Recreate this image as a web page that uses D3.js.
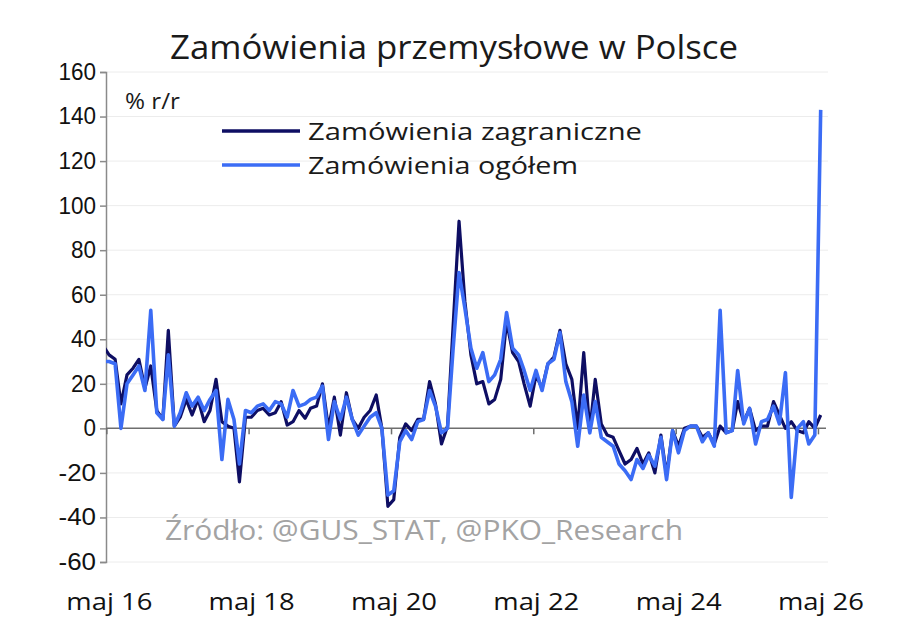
<!DOCTYPE html>
<html>
<head>
  <meta charset="utf-8">
  <title>Zamówienia przemysłowe w Polsce</title>
  <script src="https://cdn.jsdelivr.net/npm/d3@7"></script>
  <style>
    body { margin: 0; background: #fff; font-family: "Open Sans", Arial, sans-serif; }
    .grid line { stroke: #ececec; stroke-width: 1; }
    .ylab { font-size: 23px; fill: #111; }
    .xlab { font-size: 23px; fill: #111; }
    .title { font-size: 32px; fill: #1a1a1a; }
    .legend text { font-size: 24px; fill: #1a1a1a; }
  </style>
</head>
<body>
  <div id="chart"></div>
  <script>
    // miesięczne, kwi 2016 - maj 2026, % r/r
    const zagraniczne = [
      37, 33, 31, 11, 24, 27, 31, 18, 28, 8,
      4, 44, 1, 5, 13, 6, 13, 3, 8, 22,
      3, 1, 0, -24, 5, 5, 8, 9, 6, 7,
      12, 1.5, 3, 8, 4.5, 9, 10, 20, 0, 14,
      -3, 16, 4, 0, 5, 8, 15, 0, -35, -32,
      -4, 2, -1, 4, 4, 21, 11, -7, 1, 45,
      93, 57, 33, 20, 21, 11, 13, 22, 48, 34,
      30, 20, 10, 24, 18, 29, 32, 44, 29, 22,
      0, 34, -1, 22, 2, -3, -4, -10, -16, -14,
      -9, -16, -11, -20, -3, -21, -1, -8, 0, 1,
      1, -4, -2, -7, 1, -2, -1, 12, 3, 9,
      -1, 1, 1, 12, 6, 0, 3, -1, -2, 3,
      0, 6
    ];
    const ogolem = [
      30, 30, 29, 0, 20, 24, 28, 17, 53, 7,
      4, 33, 1, 7, 16, 10, 14, 8, 13, 17,
      -14, 13, 4, -16, 8, 7, 10, 11, 8, 12,
      11, 5, 17, 10, 11, 13, 14, 19, -5, 12,
      4, 14, 4, -3, 1, 5, 7, 0, -30, -28,
      -6, -1, -5, 3, 4, 17, 10, -2, 0, 35,
      70, 54, 36, 27, 34, 21, 24, 31, 52, 36,
      33, 26, 17, 26, 17, 29, 31, 43, 21, 12,
      -8, 15, -2, 12, -4, -6, -8, -16, -19, -23,
      -14, -18, -12, -17, -4, -23, -1, -11, -1, 1,
      1, -6, -2, -8, 53, -2, -1, 26, 2, 9,
      -7, 3, 4, 10, 2, 25, -31, 0, 3, -7,
      -3, 143
    ];
    const yTicks = [-60, -40, -20, 0, 20, 40, 60, 80, 100, 120, 140, 160];
    const xTickYears = [2016, 2018, 2020, 2022, 2024, 2026];
    const xTickLabels = ["maj 16", "maj 18", "maj 20", "maj 22", "maj 24", "maj 26"];
    const seriesNames = ["Zamówienia zagraniczne", "Zamówienia ogółem"];
    const seriesColors = ["#0e0e63", "#3b6cf5"];

    const width = 920, height = 640;
    const plotLeft = 106, plotRight = 828;

    const months = d3.timeMonth.range(new Date(2016, 3, 1), new Date(2026, 5, 1));
    const mid = months.map(m => d3.timeDay.offset(m, 14));

    const x = d3.scaleTime()
      .domain([new Date(2016, 3, 1), new Date(2026, 5, 1)])
      .range([100.5, 824]);
    const y = d3.scaleLinear().domain([-60, 160]).range([562, 72]);

    const svg = d3.select("#chart").append("svg")
      .attr("width", width)
      .attr("height", height);

    // tekst rozciągnięty do szerokości z oryginału
    function label(sel, tx, ty, w) {
      return sel.attr("x", tx).attr("y", ty)
        .attr("textLength", w).attr("lengthAdjust", "spacingAndGlyphs");
    }

    svg.append("text")
      .attr("class", "title")
      .call(label, 170, 59, 568)
      .text("Zamówienia przemysłowe w Polsce");

    // siatka
    svg.append("g").attr("class", "grid")
      .selectAll("line")
      .data(yTicks.filter(d => d !== 0))
      .enter().append("line")
      .attr("x1", plotLeft).attr("x2", plotRight)
      .attr("y1", d => y(d)).attr("y2", d => y(d));

    // oś Y
    const yAxis = d3.axisLeft(y).tickValues(yTicks).tickSize(6).tickPadding(4)
      .tickFormat(d => String(d));
    const gy = svg.append("g")
      .attr("transform", `translate(${plotLeft},0)`)
      .call(yAxis);
    gy.select(".domain").attr("stroke", "#8a8a8a").attr("stroke-width", 1.5);
    gy.selectAll(".tick line").attr("stroke", "#8a8a8a").attr("stroke-width", 1.5);
    gy.selectAll(".tick text").attr("class", "ylab")
      .attr("font-family", null).attr("font-size", null)
      .attr("textLength", d => String(d).length * 12.5)
      .attr("lengthAdjust", "spacingAndGlyphs");

    // linia zera z podziałką
    const tickDates = xTickYears.map(yr => new Date(yr, 4, 1));
    const xAxis = d3.axisBottom(x).tickValues(tickDates).tickSize(6).tickFormat("");
    const gx = svg.append("g")
      .attr("transform", `translate(0,${y(0)})`)
      .call(xAxis);
    gx.select(".domain").attr("d", `M${plotLeft},0H${plotRight - 2}`)
      .attr("stroke", "#6e6e6e").attr("stroke-width", 1.5);
    gx.selectAll(".tick line").attr("stroke", "#6e6e6e").attr("stroke-width", 1.5);

    svg.append("g").selectAll("text")
      .data(tickDates)
      .enter().append("text")
      .attr("class", "xlab")
      .call(label, d => x(d) - 40, 610, 86)
      .text((d, i) => xTickLabels[i]);

    svg.append("text")
      .call(label, 125, 109, 55)
      .attr("font-size", 21).attr("fill", "#1a1a1a")
      .text("% r/r");

    svg.append("text")
      .call(label, 165, 540, 518)
      .attr("font-size", 28).attr("fill", "#a3a3a3")
      .text("Źródło: @GUS_STAT, @PKO_Research");

    // serie
    svg.append("clipPath").attr("id", "clip")
      .append("rect").attr("x", plotLeft).attr("y", 0)
      .attr("width", plotRight - plotLeft + 10).attr("height", height);

    const line = d3.line()
      .x((d, i) => x(mid[i]))
      .y(d => y(d));

    const series = [zagraniczne, ogolem];
    svg.append("g").attr("clip-path", "url(#clip)")
      .selectAll("path")
      .data(series)
      .enter().append("path")
      .attr("fill", "none")
      .attr("stroke", (d, i) => seriesColors[i])
      .attr("stroke-width", (d, i) => i === 0 ? 3.2 : 3.6)
      .attr("stroke-linejoin", "round")
      .attr("d", line);

    // legenda
    const legendWidths = [334, 270];
    const legend = svg.append("g").attr("class", "legend")
      .selectAll("g")
      .data(seriesNames)
      .enter().append("g")
      .attr("transform", (d, i) => `translate(222,${131 + i * 34})`);
    legend.append("line")
      .attr("x1", 0).attr("x2", 78)
      .attr("stroke", (d, i) => seriesColors[i])
      .attr("stroke-width", 3.6);
    legend.append("text")
      .call(label, 86, 9, (d, i) => legendWidths[i])
      .text(d => d);
  </script>
</body>
</html>
